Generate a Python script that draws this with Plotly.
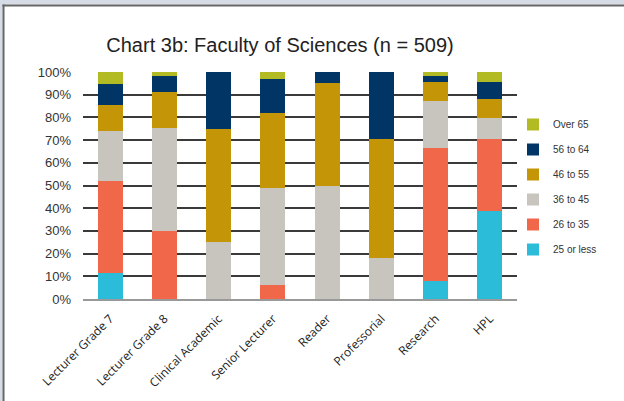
import plotly.graph_objects as go

categories = ["Lecturer Grade 7", "Lecturer Grade 8", "Clinical Academic", "Senior Lecturer",
              "Reader", "Professorial", "Research", "HPL"]
age_bands = ["25 or less", "26 to 35", "36 to 45", "46 to 55", "56 to 64", "Over 65"]
pct_25_or_less = [11.3, 0, 0, 0, 0, 0, 7.8, 38.9]
pct_26_to_35 = [40.8, 30.1, 0, 6.3, 0, 0, 58.9, 31.7]
pct_36_to_45 = [22.1, 45.4, 25.0, 42.7, 50.0, 18.2, 20.7, 9.3]
pct_46_to_55 = [11.4, 15.8, 50.0, 33.1, 45.0, 52.4, 8.3, 8.4]
pct_56_to_64 = [9.3, 6.8, 25.0, 15.0, 5.0, 29.4, 2.4, 7.4]
pct_over_65 = [5.1, 1.9, 0, 2.9, 0, 0, 1.9, 4.3]
series = [pct_25_or_less, pct_26_to_35, pct_36_to_45, pct_46_to_55, pct_56_to_64, pct_over_65]
colors = ["#2BBCD9", "#F0674A", "#C8C5BE", "#C49507", "#003566", "#B2BB24"]

fig = go.Figure()
n = len(age_bands)
for i, (name, vals, col) in enumerate(zip(age_bands, series, colors)):
    fig.add_trace(go.Bar(x=categories, y=vals, name=name, marker_color=col,
                         marker_line_width=0, legendgroup=name, legendrank=n - i))

L, R, T, B = 83, 107, 72, 102
pw, ph = 624 - L - R, 401 - T - B

def px_x(p):
    return (p - L) / pw

def px_y(p):
    return (401 - B - p) / ph

fig.update_layout(
    width=624, height=401,
    margin=dict(l=L, r=R, t=T, b=B, pad=0, autoexpand=False),
    barmode="stack", bargap=0.54,
    paper_bgcolor="white", plot_bgcolor="white",
    font=dict(family="Liberation Sans, Arial", color="#333"),
    title=dict(text="Chart 3b: Faculty of Sciences (n = 509)", x=280 / 624, xanchor="center",
               y=1 - 45 / 401, yanchor="middle", font=dict(size=20, color="#222")),
    showlegend=True,
    legend=dict(traceorder="grouped", x=px_x(513), xanchor="left", y=px_y(110), yanchor="top",
                font=dict(size=10, color="#333"), tracegroupgap=6, itemwidth=30,
                bgcolor="rgba(0,0,0,0)"),
    yaxis=dict(range=[0, 100], dtick=10, ticksuffix="%", showgrid=True, gridcolor="#3a3a3a",
               gridwidth=1.5, zeroline=False, showline=False, ticks="", automargin=False,
               tickfont=dict(size=13, color="#333"), ticklabelstandoff=11),
    xaxis=dict(tickangle=-45, showline=True, linecolor="#999", linewidth=2, ticks="",
               automargin=False,
               tickfont=dict(family="Open Sans, Noto Sans", size=12, color="#222"),
               ticklabelstandoff=6),
    shapes=[
        dict(type="rect", xref="paper", yref="paper", x0=px_x(0), x1=px_x(624), y0=px_y(4.5), y1=px_y(0),
             fillcolor="#D6DCE6", line_width=0, layer="above"),
        dict(type="rect", xref="paper", yref="paper", x0=px_x(0), x1=px_x(2.5), y0=px_y(401), y1=px_y(4),
             fillcolor="#D6DCE6", line_width=0, layer="above"),
        dict(type="rect", xref="paper", yref="paper", x0=px_x(2.5), x1=px_x(624), y0=px_y(6.5), y1=px_y(4.5),
             fillcolor="#666", line_width=0, layer="above"),
        dict(type="rect", xref="paper", yref="paper", x0=px_x(2.5), x1=px_x(4.5), y0=px_y(401), y1=px_y(4.5),
             fillcolor="#666", line_width=0, layer="above"),
    ],
)

fig.write_html("out.html", config={"displayModeBar": False},
               post_script="document.body.style.margin='0';document.body.style.overflow='hidden';")
